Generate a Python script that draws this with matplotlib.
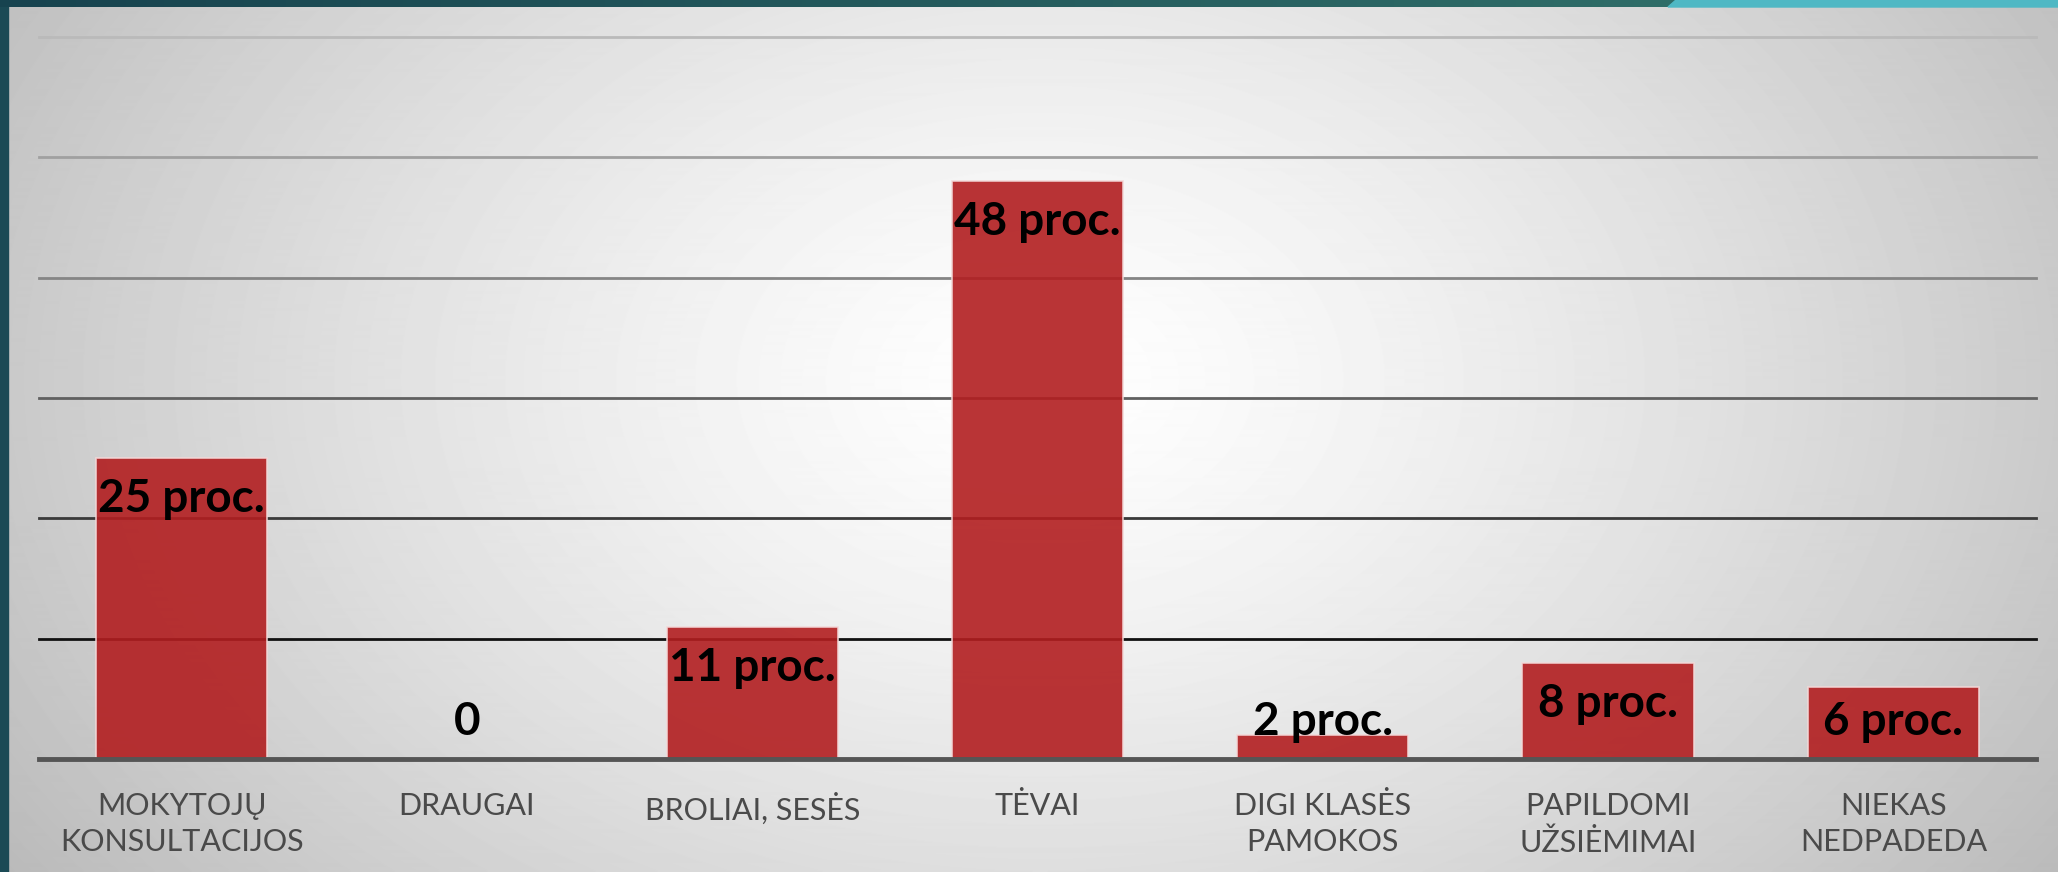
import numpy as np
import matplotlib
matplotlib.use("Agg")
import matplotlib.pyplot as plt
from matplotlib.patches import Rectangle, Polygon
from matplotlib.colors import LinearSegmentedColormap

categories = ["MOKYTOJŲ\nKONSULTACIJOS", "DRAUGAI", "BROLIAI, SESĖS", "TĖVAI",
              "DIGI KLASĖS\nPAMOKOS", "PAPILDOMI\nUŽSIĖMIMAI", "NIEKAS\nNEDPADEDA"]
values = [25, 0, 11, 48, 2, 8, 6]
value_labels = ["25 proc.", "0", "11 proc.", "48 proc.", "2 proc.", "8 proc.", "6 proc."]

W, H = 2058, 872
fig = plt.figure(figsize=(W / 100, H / 100), dpi=100)

# background radial gradient
bg = fig.add_axes([0, 0, 1, 1], zorder=0)
yy, xx = np.mgrid[0:H, 0:W]
r = np.sqrt(((xx - 1040) / 1150.0) ** 2 + ((yy - 380) / 800.0) ** 2)
val = np.clip(255 - 62 * np.clip(r, 0, 1.2) ** 1.3, 0, 255) / 255.0
bg.imshow(val, cmap="gray", vmin=0, vmax=1, aspect="auto", extent=[0, W, H, 0])
bg.add_patch(Rectangle((0, 0), 8, H, color="#1b4a55", zorder=2))
topgrad = np.linspace(0, 1, 400)[None, :]
tcm = LinearSegmentedColormap.from_list("t", ["#17434f", "#2f6d68"])
bg.imshow(topgrad, cmap=tcm, aspect="auto", extent=[0, 1680, 7, 0], zorder=2)
bg.add_patch(Polygon([[1668, 7], [1676, 0], [W, 0], [W, 7]], closed=True, color="#4fb8c4", zorder=3))
bg.set_xlim(0, W)
bg.set_ylim(H, 0)
bg.axis("off")

# main axes
x0, x1 = 39, 2036
ytop, ybase = 37, 759
ax = fig.add_axes([x0 / W, (H - ybase) / H, (x1 - x0) / W, (ybase - ytop) / H], zorder=1)
ax.patch.set_alpha(0)
x = np.arange(len(categories))
ax.set_xlim(-0.5, len(categories) - 0.5)
ax.set_ylim(0, 60)

grid_colors = {10: "#111111", 20: "#3a3a3a", 30: "#606060", 40: "#858585", 50: "#a0a0a0", 60: "#bababa"}
for yv, c in grid_colors.items():
    ax.axhline(yv, color=c, lw=2, zorder=1, clip_on=False)
ax.axhline(0, color="#555555", lw=3.5, zorder=4, clip_on=False)

ax.bar(x, values, width=0.6, color=(178 / 255, 30 / 255, 32 / 255), alpha=0.9,
       edgecolor="#f3d8d8", linewidth=1.2, zorder=3)

for xi, v, lab in zip(x, values, value_labels):
    ly = max(v - 3.4, 3.1)
    ax.text(xi, ly, lab, ha="center", va="center", fontsize=33, fontweight="bold",
            family="Lato", color="black", zorder=5)

ax.set_yticks([])
ax.set_xticks(x)
ax.set_xticklabels(categories, fontsize=22, color="#4a4a4a", family="Lato",
                   fontweight="normal", linespacing=1.35)
ax.tick_params(axis="x", length=0, pad=24)
for s in ax.spines.values():
    s.set_visible(False)

fig.savefig("out.png", dpi=100)
